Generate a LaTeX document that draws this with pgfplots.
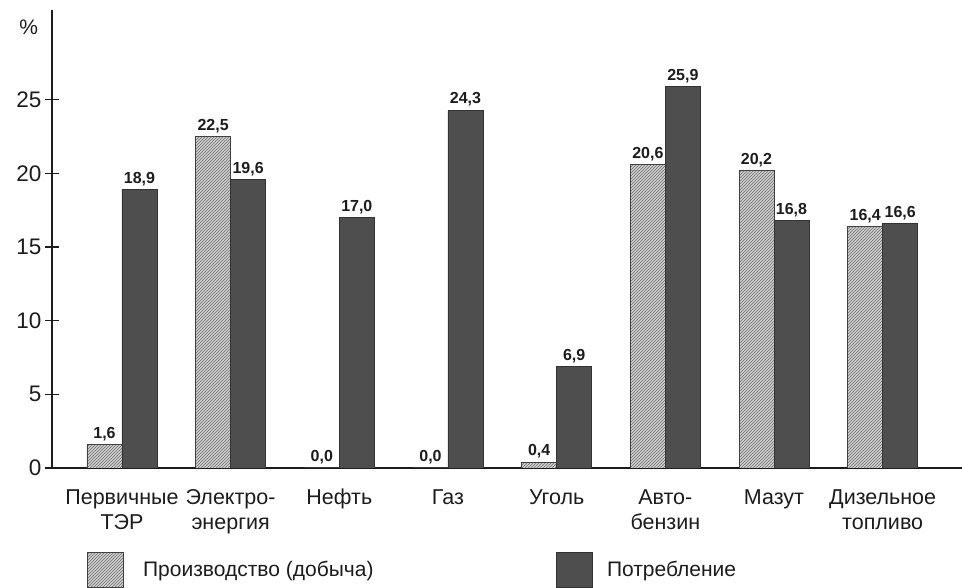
\documentclass[border=0pt]{standalone}
\usepackage{pgfplots}
\pgfplotsset{compat=1.18}
\usepackage{fontspec}
\setmainfont{Liberation Sans}
\usetikzlibrary{patterns}
\definecolor{darkbar}{HTML}{4E4E4E}
\definecolor{lightbar}{HTML}{D2D2D2}
\definecolor{hatch}{HTML}{6A6A6A}
\definecolor{txt}{HTML}{1C1C1C}

\pgfplotstableread{
x prod cons
0 1.6 18.9
1 22.5 19.6
2 0.0 17.0
3 0.0 24.3
4 0.4 6.9
5 20.6 25.9
6 20.2 16.8
7 16.4 16.6
}\datatable

\begin{document}
\begin{tikzpicture}
\useasboundingbox (-52pt,-120pt) rectangle (910pt,468pt);
\begin{axis}[
  scale only axis,
  width=910pt, height=458pt,
  xmin=-0.644, xmax=7.73,
  ymin=0, ymax=31.1,
  axis x line=bottom, axis y line=left,
  axis line style={-, line width=1.4pt, color=txt},
  xtick={0,...,7},
  xticklabels={{\strut Первичные\\ТЭР},{\strut Электро-\\энергия},\strut Нефть,\strut Газ,\strut Уголь,{\strut Авто-\\бензин},\strut Мазут,{\strut Дизельное\\топливо}},
  xticklabel style={align=center, font=\fontsize{21.5}{25}\selectfont, text=txt, yshift=-1pt},
  xtick style={draw=none},
  ytick={0,5,...,25},
  yticklabel style={font=\fontsize{22.5}{26}\selectfont, text=txt},
  ytick style={line width=1.3pt, color=txt},
  tick align=center,
  major tick length=14pt,
  /pgf/number format/assume math mode=true,
  ylabel={\%},
  every axis y label/.style={at={(axis description cs:-0.0255,0.963)}, anchor=center, font=\fontsize{21}{22}\selectfont, text=txt},
  ybar,
  bar width=0.322,
  nodes near coords={\pgfmathprintnumber[fixed,fixed zerofill,precision=1,use comma]{\pgfplotspointmeta}},
  every node near coord/.append style={font=\bfseries\fontsize{16}{18}\selectfont, text=txt},
  legend columns=2,
  legend style={draw=none, fill=none, at={(rel axis cs:0.0385,-0.2227)}, anchor=west, inner sep=0pt, font=\fontsize{21}{24}\selectfont, text=txt, column sep=0pt},
  legend image code/.code={\draw[#1] (0pt,-17.5pt) rectangle (36pt,17.5pt);},
]
\addplot[bar shift=-0.161, fill=lightbar, draw=black!75, line width=0.9pt, postaction={pattern=north east lines, pattern color=hatch}] table[x=x, y=prod] {\datatable};
\addlegendentry{\hspace*{17pt}\makebox[411pt][l]{Производство (добыча)}}
\addplot[bar shift=0.161, fill=darkbar, draw=black!80, line width=0.9pt] table[x=x, y=cons] {\datatable};
\addlegendentry{\hspace*{12pt}Потребление}
\end{axis}
\end{tikzpicture}
\end{document}
